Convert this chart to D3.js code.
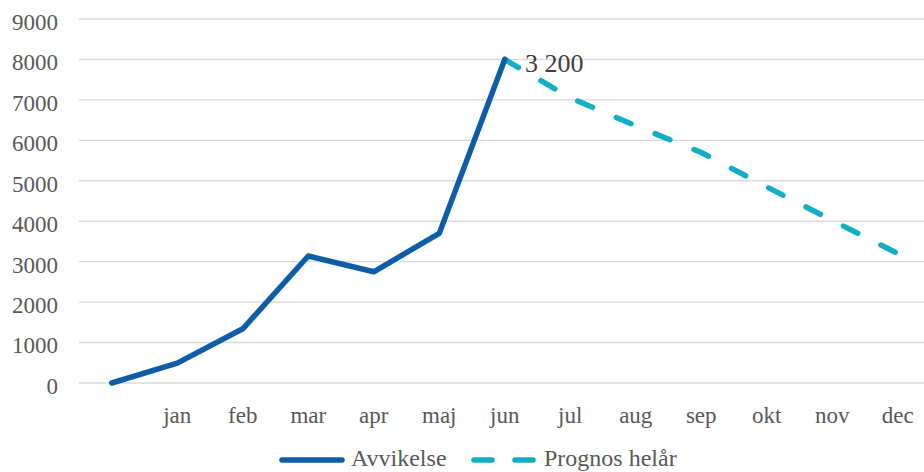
<!DOCTYPE html>
<html><head><meta charset="utf-8">
<script src="https://cdn.jsdelivr.net/npm/d3@7"></script>
<style>html,body{margin:0;padding:0;background:#fff;overflow:hidden}svg{display:block}</style>
</head><body>
<svg id="c" width="924" height="472"></svg>
<script>
const categories = ["", "jan", "feb", "mar", "apr", "maj", "jun", "jul", "aug", "sep", "okt", "nov", "dec"];
const avvikelse = [0, 490, 1340, 3140, 2750, 3700, 8000, null, null, null, null, null, null];
const prognos = [null, null, null, null, null, null, 8000, 7050, 6360, 5700, 4850, 4020, 3200];
const yTicks = [0, 1000, 2000, 3000, 4000, 5000, 6000, 7000, 8000, 9000];
const seriesNames = ["Avvikelse", "Prognos helår"];
const dataLabel = "3 200";

const svg = d3.select("#c");
const font = "'Liberation Serif', 'Times New Roman', serif";
const x = d3.scaleBand().domain(categories).range([79, 930.5]).padding(0);
const cx = c => x(c) + x.bandwidth() / 2;
const y = d3.scaleLinear().domain([0, 9000]).range([383, 19]);

// gridlines
svg.append("g").selectAll("line").data(yTicks).join("line")
  .attr("x1", 79).attr("x2", 924)
  .attr("y1", d => y(d)).attr("y2", d => y(d))
  .attr("stroke", "#d9d9d9").attr("stroke-width", 1.4);

// y axis labels
const yAxis = d3.axisLeft(y).tickValues(yTicks).tickSize(0).tickPadding(0).tickFormat(d3.format("d"));
const ya = svg.append("g").attr("transform", "translate(58,0)").call(yAxis);
ya.select(".domain").remove();
ya.selectAll("text").attr("font-family", font).attr("font-size", 23).attr("fill", "#595959").attr("dy", "0.45em");

// x axis labels
const xAxis = d3.axisBottom(x).tickSize(0).tickPadding(0);
const xa = svg.append("g").attr("transform", "translate(0,405)").call(xAxis);
xa.select(".domain").remove();
xa.selectAll("text").attr("font-family", font).attr("font-size", 23).attr("fill", "#595959").attr("dy", "0.8em");

const line = d3.line().defined(d => d.v != null).x(d => cx(d.c)).y(d => y(d.v));
const avData = categories.map((c, i) => ({c, v: avvikelse[i]}));
const prData = categories.map((c, i) => ({c, v: prognos[i]}));

svg.append("path").datum(prData).attr("d", line).attr("fill", "none")
  .attr("stroke", "#12AEC3").attr("stroke-width", 5.5).attr("stroke-linecap", "round")
  .attr("stroke-linejoin", "round").attr("stroke-dasharray", "16,26");
svg.append("path").datum(avData).attr("d", line).attr("fill", "none")
  .attr("stroke", "#0E5DA9").attr("stroke-width", 5.5).attr("stroke-linecap", "round")
  .attr("stroke-linejoin", "round");

// data label
svg.append("text").attr("x", 525).attr("y", 72).text(dataLabel)
  .attr("font-family", font).attr("font-size", 26).attr("fill", "#404040");

// legend
const lg = svg.append("g");
lg.append("line").attr("x1", 282).attr("x2", 342).attr("y1", 460).attr("y2", 460)
  .attr("stroke", "#0E5DA9").attr("stroke-width", 5.5).attr("stroke-linecap", "round");
lg.append("text").attr("x", 351).attr("y", 466).text(seriesNames[0])
  .attr("font-family", font).attr("font-size", 24).attr("fill", "#595959");
lg.append("line").attr("x1", 474).attr("x2", 534).attr("y1", 460).attr("y2", 460)
  .attr("stroke", "#12AEC3").attr("stroke-width", 5.5).attr("stroke-linecap", "round")
  .attr("stroke-dasharray", "18,23");
lg.append("text").attr("x", 544).attr("y", 466).text(seriesNames[1])
  .attr("font-family", font).attr("font-size", 24).attr("fill", "#595959");
</script>
</body></html>
